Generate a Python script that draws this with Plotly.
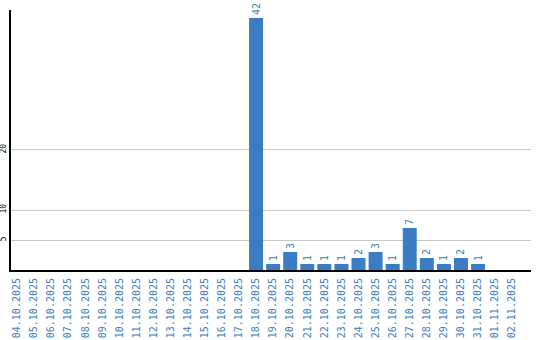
import plotly.graph_objects as go

dates = ["04.10.2025","05.10.2025","06.10.2025","07.10.2025","08.10.2025","09.10.2025",
         "10.10.2025","11.10.2025","12.10.2025","13.10.2025","14.10.2025","15.10.2025",
         "16.10.2025","17.10.2025","18.10.2025","19.10.2025","20.10.2025","21.10.2025",
         "22.10.2025","23.10.2025","24.10.2025","25.10.2025","26.10.2025","27.10.2025",
         "28.10.2025","29.10.2025","30.10.2025","31.10.2025","01.11.2025","02.11.2025"]
counts = [0,0,0,0,0,0,0,0,0,0,0,0,0,0,42,1,3,1,1,1,2,3,1,7,2,1,2,1,0,0]
ytick_vals = [5, 10, 20]

blue = "#3b7dc4"
labels = [str(v) if v > 0 else "" for v in counts]

fig = go.Figure(go.Bar(
    x=list(range(len(dates))), y=counts, width=0.82,
    marker=dict(color=blue, line=dict(width=0)),
    text=labels, textposition="outside", textangle=-90,
    textfont=dict(family="DejaVu Sans Mono", size=10, color=blue),
    cliponaxis=False,
))
fig.update_layout(
    width=540, height=340, margin=dict(l=11, r=9, t=10, b=70),
    paper_bgcolor="white", plot_bgcolor="white", showlegend=False,
    xaxis=dict(tickvals=list(range(len(dates))), ticktext=dates, tickangle=-90,
               range=[-0.35, 30.1], showgrid=False, showline=True, linecolor="black",
               linewidth=2, ticks="", ticklen=0, automargin=False, ticklabelstandoff=2,
               tickfont=dict(family="DejaVu Sans Mono", size=10, color=blue)),
    yaxis=dict(range=[0, 43.33], tickvals=ytick_vals, tickangle=-90,
               showgrid=True, gridcolor="#c8c8c8", gridwidth=1, automargin=False,
               showline=True, linecolor="black", linewidth=2, zeroline=False,
               ticks="", tickfont=dict(family="DejaVu Sans Mono", size=8, color="black")),
)
fig.write_html("out.html")
